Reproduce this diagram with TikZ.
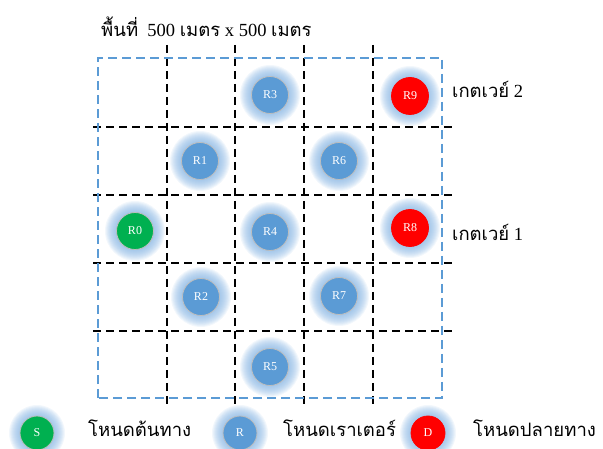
\documentclass[tikz,border=0pt]{standalone}
\usepackage{fontspec}
\setmainfont{Liberation Serif}
\newfontfamily\thai[Script=Thai]{Loma}
\definecolor{nodeblue}{RGB}{91,155,213}
\definecolor{nodegreen}{RGB}{0,176,80}
\definecolor{nodered}{RGB}{255,0,0}
\definecolor{glowc}{RGB}{130,178,226}
\definecolor{rimgray}{RGB}{190,190,190}
\tikzset{
  gridline/.style={black, line width=1.2pt, dash pattern=on 8pt off 5pt},
  area/.style={nodeblue, line width=1.1pt, dash pattern=on 9pt off 5pt},
  router/.style={circle, minimum size=37pt, inner sep=0pt, draw=rimgray, line width=0.8pt, fill=nodeblue, text=white, font=\fontsize{12}{12}\selectfont},
  lgnode/.style={router, minimum size=34pt},
  label/.style={anchor=base west, inner sep=0pt, font=\fontsize{18.5}{18.5}\selectfont}
}
\newcommand{\glowat}[2]{\foreach \rr in {18,...,#2}{\fill[glowc, fill opacity=0.1] (#1) circle (\rr pt);}}
\begin{document}
\begin{tikzpicture}[x=1pt,y=-1pt]
\useasboundingbox (0,0) rectangle (603,449);
% grid
\coordinate (v1t) at (167,45); \coordinate (v1b) at (167,405);
\coordinate (v2t) at (235,45); \coordinate (v2b) at (235,405);
\coordinate (v3t) at (304,45); \coordinate (v3b) at (304,405);
\coordinate (v4t) at (373,45); \coordinate (v4b) at (373,405);
\coordinate (h1l) at (93,127); \coordinate (h1r) at (455,127);
\coordinate (h2l) at (93,195); \coordinate (h2r) at (455,195);
\coordinate (h3l) at (93,263); \coordinate (h3r) at (455,263);
\coordinate (h4l) at (93,331); \coordinate (h4r) at (455,331);
\foreach \n in {v1,v2,v3,v4}{\draw[gridline] (\n t) -- (\n b);}
\foreach \n in {h1,h2,h3,h4}{\draw[gridline] (\n l) -- (\n r);}
\coordinate (bl) at (98,398); \coordinate (tr) at (442,58);
\draw[area] (bl) rectangle (tr);
% node positions
\coordinate (p0) at (135,231);
\coordinate (p1) at (200,161);
\coordinate (p2) at (201,297);
\coordinate (p3) at (270,95);
\coordinate (p4) at (270,232);
\coordinate (p5) at (270,367);
\coordinate (p6) at (339,161);
\coordinate (p7) at (339,296);
\coordinate (p8) at (410,228);
\coordinate (p9) at (410,96);
\coordinate (pls) at (37,433);
\coordinate (plr) at (240,433);
\coordinate (pld) at (428,433);
\foreach \p in {p0,p1,p2,p3,p4,p5,p6,p7,p8,p9}{\glowat{\p}{30}}
\foreach \p in {pls,plr,pld}{\glowat{\p}{28}}
\node[router, fill=nodegreen] (r0) at (p0) {R0};
\node[router] (r1) at (p1) {R1};
\node[router] (r2) at (p2) {R2};
\node[router] (r3) at (p3) {R3};
\node[router] (r4) at (p4) {R4};
\node[router] (r5) at (p5) {R5};
\node[router] (r6) at (p6) {R6};
\node[router] (r7) at (p7) {R7};
\node[router, fill=nodered, draw=nodered] (r8) at (p8) {R8};
\node[router, fill=nodered, draw=nodered] (r9) at (p9) {R9};
\node[lgnode, fill=nodegreen] (ls) at (pls) {S};
\node[lgnode] (lr) at (plr) {R};
\node[lgnode, fill=nodered, draw=nodered] (ld) at (pld) {D};
% texts
\node[label] (title) at (101,37) {{\thai พื้นที่}\ \ 500 {\thai เมตร} x 500 {\thai เมตร}};
\node[label] (gw2) at (452,98) {{\thai เกตเวย์} 2};
\node[label] (gw1) at (452,241) {{\thai เกตเวย์} 1};
\node[label] (t1) at (88,436) {\thai โหนดต้นทาง};
\node[label] (t2) at (283,436) {\thai โหนดเราเตอร์};
\node[label] (t3) at (473,436) {\thai โหนดปลายทาง};
\end{tikzpicture}
\end{document}
